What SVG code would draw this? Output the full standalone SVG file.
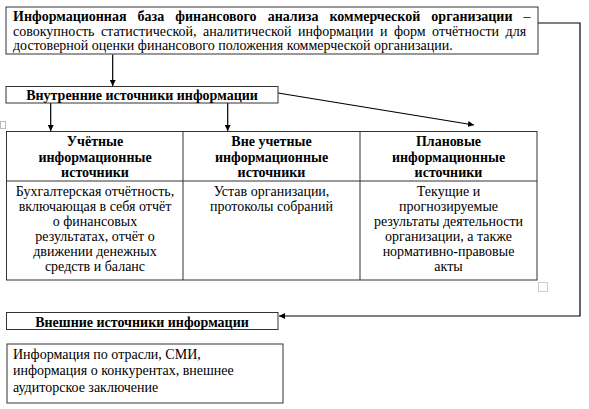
<svg xmlns="http://www.w3.org/2000/svg" width="589" height="409" viewBox="0 0 589 409">
<style>
  .box { fill: #fff; stroke: #333; stroke-width: 1; }
  .line { fill: none; stroke: #000; stroke-width: 1.2; }
  .grid { fill: none; stroke: #333; stroke-width: 1; }
</style>
<defs>
  <marker id="arr" viewBox="0 0 10 10" refX="10" refY="5" markerWidth="6" markerHeight="6" markerUnits="userSpaceOnUse" orient="auto">
    <path d="M0,0 L10,5 L0,10 z" fill="#000"/>
  </marker>
</defs>
<rect width="589" height="409" fill="#fff"/>

<g id="connectors">
  <polyline class="line" points="538,23 580,23 580,316 279,316" marker-end="url(#arr)"/>
  <line class="line" x1="112.7" y1="54.5" x2="112.7" y2="86" marker-end="url(#arr)"/>
  <line class="line" x1="50.7" y1="103" x2="50.7" y2="131" marker-end="url(#arr)"/>
  <line class="line" x1="227.7" y1="103" x2="227.7" y2="131" marker-end="url(#arr)"/>
  <line class="line" x1="278" y1="93" x2="474" y2="125" marker-end="url(#arr)"/>
</g>

<g id="node-base">
  <rect class="box" x="6" y="7" width="532" height="47"/>
  <text font-family="Liberation Serif" font-size="14" word-spacing="7.6" x="13" y="20.5"><tspan font-weight="bold">Информационная база финансового анализа коммерческой организации</tspan> –</text>
  <text font-family="Liberation Serif" font-size="14" word-spacing="3" x="13" y="35.5">совокупность статистической, аналитической информации и форм отчётности для</text>
  <text font-family="Liberation Serif" font-size="14" x="13" y="50">достоверной оценки финансового положения коммерческой организации.</text>
</g>

<g id="node-internal">
  <rect class="box" x="6" y="86.5" width="272" height="16.5"/>
  <text font-family="Liberation Serif" font-size="14" font-weight="bold" text-anchor="middle" x="142" y="99.5">Внутренние источники информации</text>
</g>

<g id="node-table">
  <rect class="grid" x="6.5" y="131.5" width="530.5" height="148.5" fill="#fff"/>
  <line class="grid" x1="183" y1="131.5" x2="183" y2="280"/>
  <line class="grid" x1="360" y1="131.5" x2="360" y2="280"/>
  <line class="grid" x1="6.5" y1="181" x2="537" y2="181"/>
  <g id="col-accounting">
    <text font-family="Liberation Serif" font-size="14" font-weight="bold" text-anchor="middle" x="95" y="146">Учётные</text>
    <text font-family="Liberation Serif" font-size="14" font-weight="bold" text-anchor="middle" x="95" y="161.5">информационные</text>
    <text font-family="Liberation Serif" font-size="14" font-weight="bold" text-anchor="middle" x="95" y="177">источники</text>
    <text font-family="Liberation Serif" font-size="14" text-anchor="middle" x="95" y="195.5">Бухгалтерская отчётность,</text>
    <text font-family="Liberation Serif" font-size="14" text-anchor="middle" x="95" y="210.5">включающая в себя отчёт</text>
    <text font-family="Liberation Serif" font-size="14" text-anchor="middle" x="95" y="225.5">о финансовых</text>
    <text font-family="Liberation Serif" font-size="14" text-anchor="middle" x="95" y="240.5">результатах, отчёт о</text>
    <text font-family="Liberation Serif" font-size="14" text-anchor="middle" x="95" y="255.5">движении денежных</text>
    <text font-family="Liberation Serif" font-size="14" text-anchor="middle" x="95" y="270.5">средств и баланс</text>
  </g>
  <g id="col-nonaccounting">
    <text font-family="Liberation Serif" font-size="14" font-weight="bold" text-anchor="middle" x="271.5" y="146">Вне учетные</text>
    <text font-family="Liberation Serif" font-size="14" font-weight="bold" text-anchor="middle" x="271.5" y="161.5">информационные</text>
    <text font-family="Liberation Serif" font-size="14" font-weight="bold" text-anchor="middle" x="271.5" y="177">источники</text>
    <text font-family="Liberation Serif" font-size="14" text-anchor="middle" x="271.5" y="195.5">Устав организации,</text>
    <text font-family="Liberation Serif" font-size="14" text-anchor="middle" x="271.5" y="210.5">протоколы собраний</text>
  </g>
  <g id="col-planned">
    <text font-family="Liberation Serif" font-size="14" font-weight="bold" text-anchor="middle" x="448.5" y="146">Плановые</text>
    <text font-family="Liberation Serif" font-size="14" font-weight="bold" text-anchor="middle" x="448.5" y="161.5">информационные</text>
    <text font-family="Liberation Serif" font-size="14" font-weight="bold" text-anchor="middle" x="448.5" y="177">источники</text>
    <text font-family="Liberation Serif" font-size="14" text-anchor="middle" x="448.5" y="195.5">Текущие и</text>
    <text font-family="Liberation Serif" font-size="14" text-anchor="middle" x="448.5" y="210.5">прогнозируемые</text>
    <text font-family="Liberation Serif" font-size="14" text-anchor="middle" x="448.5" y="225.5">результаты деятельности</text>
    <text font-family="Liberation Serif" font-size="14" text-anchor="middle" x="448.5" y="240.5">организации, а также</text>
    <text font-family="Liberation Serif" font-size="14" text-anchor="middle" x="448.5" y="255.5">нормативно-правовые</text>
    <text font-family="Liberation Serif" font-size="14" text-anchor="middle" x="448.5" y="270.5">акты</text>
  </g>
  <rect x="538.5" y="282.5" width="9" height="9" fill="#fff" stroke="#ccc" stroke-width="1"/>
  <rect x="0.5" y="121.5" width="5" height="7" fill="#fff" stroke="#bbb" stroke-width="1"/>
</g>

<g id="node-external">
  <rect class="box" x="6.5" y="312.5" width="271.5" height="17"/>
  <text font-family="Liberation Serif" font-size="14" font-weight="bold" text-anchor="middle" x="142" y="326.5">Внешние источники информации</text>
</g>

<g id="node-external-info">
  <rect class="box" x="7" y="344" width="276" height="59"/>
  <text font-family="Liberation Serif" font-size="14" x="13" y="358.5">Информация по отрасли, СМИ,</text>
  <text font-family="Liberation Serif" font-size="14" x="13" y="375">информация о конкурентах, внешнее</text>
  <text font-family="Liberation Serif" font-size="14" x="13" y="391.5">аудиторское заключение</text>
</g>
</svg>
